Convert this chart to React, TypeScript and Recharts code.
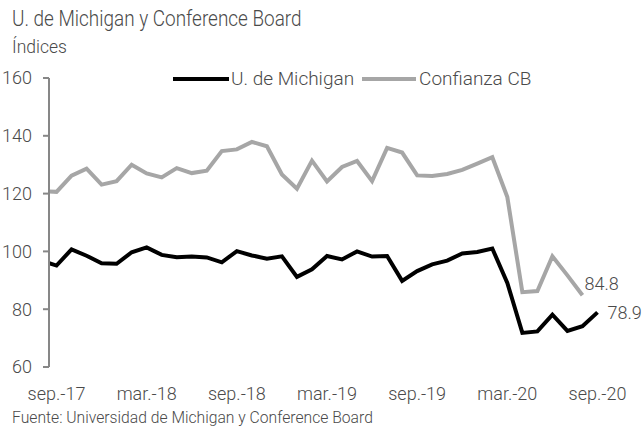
import { LineChart, Line, XAxis, YAxis } from 'recharts';

// monthly, Aug-17 (clipped at the left edge) to Sep-20
const months = [
  'ago.-17', 'sep.-17', 'oct.-17', 'nov.-17', 'dic.-17',
  'ene.-18', 'feb.-18', 'mar.-18', 'abr.-18', 'may.-18', 'jun.-18', 'jul.-18', 'ago.-18', 'sep.-18', 'oct.-18', 'nov.-18', 'dic.-18',
  'ene.-19', 'feb.-19', 'mar.-19', 'abr.-19', 'may.-19', 'jun.-19', 'jul.-19', 'ago.-19', 'sep.-19', 'oct.-19', 'nov.-19', 'dic.-19',
  'ene.-20', 'feb.-20', 'mar.-20', 'abr.-20', 'may.-20', 'jun.-20', 'jul.-20', 'ago.-20', 'sep.-20',
];

const michigan = [
  96.8, 95.1, 100.7, 98.5, 95.9,
  95.7, 99.7, 101.4, 98.8, 98.0, 98.2, 97.9, 96.2, 100.1, 98.6, 97.5, 98.3,
  91.2, 93.8, 98.4, 97.2, 100.0, 98.2, 98.4, 89.8, 93.2, 95.5, 96.8, 99.3,
  99.8, 101.0, 89.1, 71.8, 72.3, 78.1, 72.5, 74.1, 78.9,
];

const confianzaCB = [
  120.8, 120.6, 126.2, 128.6, 123.1,
  124.3, 130.0, 127.0, 125.6, 128.8, 127.1, 127.9, 134.7, 135.3, 137.9, 136.4, 126.6,
  121.7, 131.4, 124.2, 129.2, 131.3, 124.3, 135.8, 134.2, 126.3, 126.1, 126.8, 128.2,
  130.4, 132.6, 118.8, 85.9, 86.3, 98.3, 91.7, 84.8, null,
];

const tickLabels = ['sep.-17', 'mar.-18', 'sep.-18', 'mar.-19', 'sep.-19', 'mar.-20', 'sep.-20'];
const boundaryTicks = [0, 6, 12, 18, 24, 30, 36];
const labelTicks = [0.5, 6.5, 12.5, 18.5, 24.5, 30.5, 36.5];
const yTicks = [60, 80, 100, 120, 140, 160];

const data = months.map((name, i) => ({
  name,
  m: i - 0.5,
  mich: michigan[i],
  cb: confianzaCB[i],
}));

const FONT = 'Roboto, sans-serif';
const TEXT = '#4a4a4a';
const AXIS = '#878787';
const GRAY = '#a6a6a6';

const lastMich = michigan.length - 1;
const lastCb = confianzaCB.findLastIndex((v) => v !== null);

export default function App() {
  return (
    <div style={{ position: 'absolute', left: 0, top: 0, width: 643, height: 427, background: '#fff', fontFamily: FONT, color: TEXT, fontWeight: 300 }}>
      <div style={{ position: 'absolute', left: 12, top: 6, fontSize: 22, lineHeight: '26px', whiteSpace: 'nowrap', transform: 'scaleX(0.86)', transformOrigin: 'left top' }}>
        U. de Michigan y Conference Board
      </div>
      <div style={{ position: 'absolute', left: 12, top: 37, fontSize: 17.5, lineHeight: '20px' }}>Índices</div>

      <div style={{ position: 'absolute', left: 173, top: 67, display: 'flex', alignItems: 'center', fontSize: 19, whiteSpace: 'nowrap' }}>
        <span style={{ width: 56, height: 4, background: '#000', marginRight: 2 }} />
        <span>U. de Michigan</span>
        <span style={{ width: 54, height: 4, background: GRAY, marginLeft: 8, marginRight: 3 }} />
        <span>Confianza CB</span>
      </div>

      <LineChart width={643} height={427} data={data} margin={{ top: 78, right: 38, bottom: 0, left: 0 }} style={{ position: 'absolute', left: 0, top: 0 }}>
        <XAxis
          xAxisId="grid"
          type="number"
          dataKey="m"
          domain={[0, 37]}
          allowDataOverflow
          ticks={boundaryTicks}
          tick={false}
          height={0}
          tickSize={7}
          axisLine={{ stroke: AXIS, strokeWidth: 2 }}
          tickLine={{ stroke: AXIS, strokeWidth: 2 }}
        />
        <XAxis
          xAxisId="lbl"
          type="number"
          dataKey="m"
          domain={[0, 37]}
          allowDataOverflow
          ticks={labelTicks}
          interval={0}
          tickFormatter={(v: number) => tickLabels[labelTicks.indexOf(v)] ?? ''}
          axisLine={false}
          tickLine={false}
          tickSize={0}
          tickMargin={20}
          height={60}
          tick={{ fill: TEXT, fontSize: 18, fontFamily: FONT, fontWeight: 300 }}
        />
        <YAxis
          type="number"
          domain={[60, 160]}
          ticks={yTicks}
          interval={0}
          width={49}
          tickSize={6}
          tickMargin={11}
          axisLine={{ stroke: AXIS, strokeWidth: 2 }}
          tickLine={{ stroke: AXIS, strokeWidth: 2 }}
          tick={{ fill: TEXT, fontSize: 18, fontFamily: FONT, fontWeight: 300 }}
        />
        <Line
          xAxisId="grid"
          dataKey="cb"
          stroke={GRAY}
          strokeWidth={4}
          dot={false}
          activeDot={false}
          isAnimationActive={false}
          label={(p: any) =>
            p.index === lastCb ? (
              <text key="cbl" x={p.x + 2} y={p.y - 5} fill={TEXT} fontSize={18} fontFamily={FONT} fontWeight={300}>
                {p.value}
              </text>
            ) : null
          }
        />
        <Line
          xAxisId="grid"
          dataKey="mich"
          stroke="#000"
          strokeWidth={4}
          dot={false}
          activeDot={false}
          isAnimationActive={false}
          label={(p: any) =>
            p.index === lastMich ? (
              <text key="mil" x={p.x + 10} y={p.y + 7} fill={TEXT} fontSize={18} fontFamily={FONT} fontWeight={300}>
                {p.value}
              </text>
            ) : null
          }
        />
      </LineChart>

      <div style={{ position: 'absolute', left: 12, top: 409, fontSize: 15.7, lineHeight: '18px', whiteSpace: 'nowrap' }}>
        Fuente: Universidad de Michigan y Conference Board
      </div>
    </div>
  );
}
